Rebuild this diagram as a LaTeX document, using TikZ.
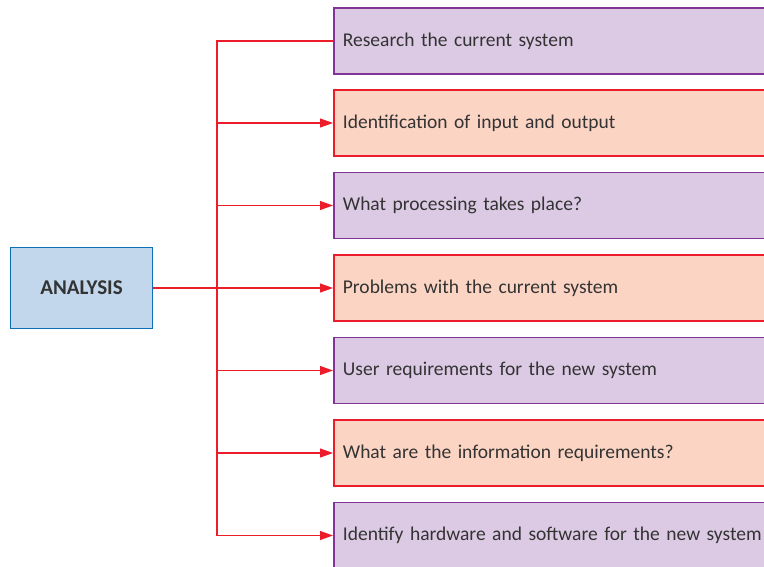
\documentclass[tikz,border=0pt]{standalone}
\usepackage{fontspec}
\setmainfont{Carlito}
\usetikzlibrary{arrows.meta,positioning}
\definecolor{stepred}{HTML}{EC1C2A}
\definecolor{purpfill}{HTML}{DCCAE4}
\definecolor{purpline}{HTML}{7F3496}
\definecolor{pinkfill}{HTML}{FBD4C3}
\definecolor{bluefill}{HTML}{C2D7EB}
\definecolor{blueline}{HTML}{0B70B4}
\definecolor{txt}{HTML}{333333}

\begin{document}
\begin{tikzpicture}[x=1pt,y=-1pt,>={Triangle[length=13pt,width=9pt]},
  task/.style={draw,line width=1.8pt,anchor=west,minimum height=66pt,text width=440pt,
    align=left,inner xsep=9pt,font=\fontsize{19.5}{22}\selectfont,text=txt},
  purp/.style={task,draw=purpline,fill=purpfill},
  pink/.style={task,draw=stepred,fill=pinkfill},
  link/.style={draw=stepred,line width=1.1pt}]
\useasboundingbox (0,0) rectangle (764,566);
\clip (0,0) rectangle (764,566);
\node[draw=blueline,fill=bluefill,line width=1.8pt,minimum width=142pt,minimum height=81pt,
  font=\fontsize{21}{24}\selectfont\bfseries,text=txt] (analysis) at (81.5,288) {ANALYSIS};
\node[purp] (s1) at (333,41) {Research the current system};
\node[pink] (s2) at (333,123) {Identification of input and output};
\node[purp] (s3) at (333,205.5) {What processing takes place?};
\node[pink] (s4) at (333,288) {Problems with the current system};
\node[purp] (s5) at (333,370.5) {User requirements for the new system};
\node[pink] (s6) at (333,453) {What are the information requirements?};
\node[purp] (s7) at (333,535.5) {Identify hardware and software for the new system};
\coordinate (bus) at (217,288);
% bus and branches
\draw[link] (s1.west) -- (bus |- s1.west) -- (bus |- s7.west);
\draw[link,->] (analysis.east) -- (s4.west);
\foreach \s in {s2,s3,s5,s6,s7}
  \draw[link,->] (bus |- \s.west) -- (\s.west);
\end{tikzpicture}
\end{document}
